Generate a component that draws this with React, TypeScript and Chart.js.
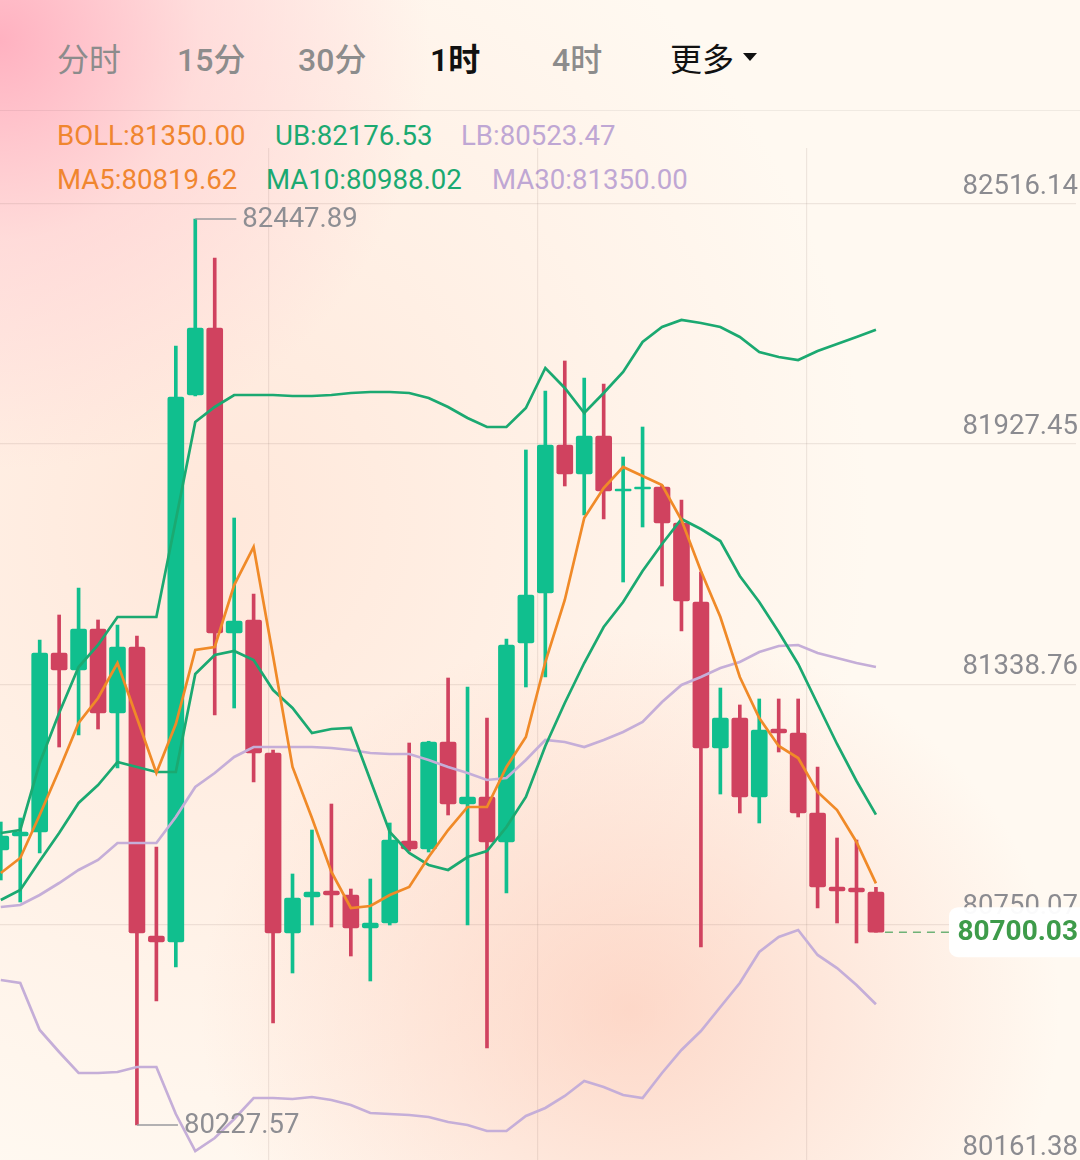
import React, { useEffect, useRef } from "react";
import { Chart, registerables } from "chart.js";

Chart.register(...registerables);

// ---------- data ----------
const TABS = ["分时", "15分", "30分", "1时", "4时", "更多"];
const TAB_LEFT = [57, 177, 298, 430, 552, 670];
const ACTIVE_TAB = "1时";

const LEGEND_ROW1 = [
  { text: "BOLL:81350.00", color: "#F0862F", left: 57 },
  { text: "UB:82176.53", color: "#1BA971", left: 275 },
  { text: "LB:80523.47", color: "#BFA7D4", left: 461 },
];
const LEGEND_ROW2 = [
  { text: "MA5:80819.62", color: "#F0862F", left: 57 },
  { text: "MA10:80988.02", color: "#1BA971", left: 266 },
  { text: "MA30:81350.00", color: "#BFA7D4", left: 492 },
];

const OPEN = [80901.5, 80935.8, 80945.6, 81384.3, 81342.6, 81443.1, 81237.2, 81399.0, 80690.7, 80676.0, 82016.6, 82180.8, 81433.3, 81465.2, 81139.2, 80698.1, 80786.3, 80801.0, 80791.2, 80710.3, 80722.6, 80923.6, 80904.0, 81166.2, 81014.2, 81031.4, 80921.1, 81408.8, 81531.3, 81894.0, 81823.0, 81916.1, 81781.3, 81786.2, 81791.1, 81702.9, 81509.3, 81151.5, 81225.0, 81031.4, 81198.0, 81188.2, 80992.2, 80810.8, 80808.4, 80798.6];
const CLOSE = [80935.8, 80945.6, 81384.3, 81342.6, 81443.1, 81237.2, 81399.0, 80698.1, 80676.0, 82011.7, 82180.8, 81433.3, 81462.7, 81139.2, 80698.1, 80783.9, 80798.6, 80791.2, 80710.3, 80722.6, 80926.0, 80904.0, 81166.2, 81014.2, 81031.4, 80921.1, 81403.9, 81526.4, 81894.0, 81823.0, 81916.1, 81781.3, 81786.2, 81791.1, 81702.9, 81511.7, 81151.5, 81225.0, 81031.4, 81195.6, 81188.2, 80992.2, 80810.8, 80801.0, 80798.6, 80700.03];
const HIGH = [80970.1, 80979.9, 81416.2, 81477.4, 81543.6, 81465.2, 81452.9, 81425.9, 80908.9, 82136.7, 82447.89, 82352.3, 81715.1, 81528.9, 81146.6, 80842.7, 80950.5, 81014.2, 80805.9, 80830.4, 80967.7, 81163.7, 81168.0, 81323.0, 81301.0, 81225.0, 81418.6, 81881.8, 82026.4, 82099.9, 82058.2, 82043.5, 81864.6, 81938.1, 81795.0, 81759.2, 81582.8, 81298.5, 81256.9, 81271.6, 81271.6, 81271.6, 81104.9, 80930.9, 80926.0, 80810.0];
const LOW = [80828.0, 80774.1, 80894.2, 81153.9, 81183.3, 81198.0, 81102.5, 80227.57, 80531.4, 80614.8, 82014.1, 81232.3, 81249.5, 81068.2, 80477.5, 80600.1, 80717.7, 80712.8, 80641.7, 80580.5, 80717.7, 80899.1, 80896.6, 80987.3, 80717.7, 80416.3, 80796.1, 81301.0, 81325.5, 81793.6, 81722.5, 81712.7, 81558.3, 81693.1, 81548.5, 81438.2, 80663.8, 81038.7, 80992.2, 80967.7, 81141.7, 80982.4, 80759.4, 80722.6, 80673.6, 80700.03];

const MA5 = [80845.1, 80881.9, 80987.3, 81097.6, 81212.7, 81274.0, 81359.8, 81225.0, 81090.2, 81210.3, 81391.6, 81399.0, 81550.9, 81644.1, 81376.9, 81104.9, 80979.9, 80847.6, 80759.4, 80764.3, 80791.2, 80810.8, 80884.3, 80950.5, 81006.9, 81006.9, 81104.9, 81178.4, 81362.2, 81514.2, 81715.1, 81788.7, 81840.1, 81818.1, 81796.0, 81710.2, 81585.2, 81472.5, 81325.5, 81225.0, 81156.4, 81127.0, 81043.6, 80999.5, 80921.1, 80819.62];
const MA10 = [80779.0, 80803.5, 80874.5, 80943.2, 81016.7, 81060.8, 81117.2, 81104.9, 81092.7, 81092.7, 81332.8, 81379.4, 81389.2, 81367.1, 81293.6, 81249.5, 81188.2, 81198.0, 81200.5, 81073.1, 80945.6, 80894.2, 80864.7, 80852.5, 80884.3, 80899.1, 80957.9, 81031.4, 81156.4, 81261.8, 81359.8, 81448.0, 81509.3, 81585.2, 81651.4, 81712.7, 81688.2, 81658.8, 81573.0, 81509.3, 81435.8, 81357.3, 81259.3, 81161.3, 81070.6, 80988.02];
const BOLL_MID = [80761.8, 80766.7, 80791.2, 80820.6, 80852.5, 80877.0, 80918.7, 80918.7, 80918.7, 80982.4, 81055.9, 81090.2, 81129.4, 81153.9, 81153.9, 81153.9, 81153.9, 81151.5, 81146.6, 81139.2, 81136.8, 81136.8, 81122.1, 81104.9, 81090.2, 81073.1, 81077.9, 81122.1, 81171.1, 81166.2, 81153.9, 81171.1, 81190.7, 81215.2, 81264.2, 81305.9, 81325.5, 81347.5, 81362.2, 81386.7, 81401.4, 81403.9, 81384.3, 81372.0, 81359.8, 81350.0];
const BOLL_UB = [80943.2, 80950.5, 81114.7, 81237.2, 81350.0, 81403.9, 81472.5, 81472.5, 81472.5, 81710.2, 81950.4, 81987.2, 82016.6, 82016.6, 82016.6, 82014.1, 82014.1, 82016.6, 82021.5, 82023.9, 82023.9, 82021.5, 82009.2, 81987.2, 81960.2, 81938.1, 81938.1, 81984.7, 82082.7, 82033.7, 81972.5, 82021.5, 82072.9, 82146.5, 82183.2, 82200.4, 82193.0, 82183.2, 82158.7, 82122.0, 82109.7, 82102.3, 82124.4, 82141.6, 82158.7, 82176.53];
const BOLL_LB = [80582.9, 80575.6, 80460.4, 80406.5, 80355.0, 80355.0, 80357.4, 80369.7, 80369.7, 80254.5, 80163.8, 80195.7, 80242.3, 80293.7, 80293.7, 80291.3, 80296.2, 80288.8, 80276.6, 80257.0, 80254.5, 80252.1, 80247.2, 80234.9, 80227.6, 80212.9, 80212.9, 80249.6, 80269.2, 80298.6, 80335.4, 80320.7, 80301.1, 80293.7, 80355.0, 80411.4, 80457.9, 80516.7, 80575.6, 80651.5, 80688.3, 80705.4, 80644.2, 80612.3, 80570.7, 80523.47];

const Y_TICK_LABELS = ["82516.14", "81927.45", "81338.76", "80750.07", "80161.38"];
const GRID_SHIFT = 31; // grid lines sit slightly below the printed level

// ---------- style ----------
const UP = "#10BF8E";
const DOWN = "#D0425F";
const LINE_GREEN = "#1BA971";
const LINE_ORANGE = "#F08A28";
const LINE_PURPLE = "#C5AED8";
const GRID = "rgba(120,100,90,0.13)";
const AXIS_TEXT = "#8B8B90";
const PRICE_GREEN = "#3E9B4A";
const FONT = "Roboto, 'Noto Sans CJK SC', sans-serif";

const Y_MIN = 80097.67;
const Y_MAX = 82621.89;
const X_MIN = -0.041;
const X_MAX = 55.287;
const CANVAS_TOP = 148;
const CANVAS_H = 1030;

const overlayPlugin = {
  id: "overlay",
  afterDraw(chart: any) {
    const { ctx, scales } = chart;
    const xs = scales.x;
    const ys = scales.y;
    let hi = 0;
    let lo = 0;
    HIGH.forEach((h, i) => { if (h > HIGH[hi]) hi = i; });
    LOW.forEach((l, i) => { if (l < LOW[lo]) lo = i; });
    ctx.save();
    ctx.strokeStyle = "#9A9A9E";
    ctx.fillStyle = "#8E8E93";
    ctx.lineWidth = 1.5;
    ctx.font = `27.5px ${FONT}`;
    ctx.textAlign = "left";
    ctx.textBaseline = "middle";
    const mark = (i: number, v: number) => {
      const x = xs.getPixelForValue(i);
      const y = ys.getPixelForValue(v);
      ctx.beginPath();
      ctx.moveTo(x, y);
      ctx.lineTo(x + 41, y);
      ctx.stroke();
      ctx.fillText(v.toFixed(2), x + 47, y + 1);
    };
    mark(hi, HIGH[hi]);
    mark(lo, LOW[lo]);

    // current price
    const last = CLOSE.length - 1;
    const lx = xs.getPixelForValue(last) + 9;
    const ly = ys.getPixelForValue(CLOSE[last]);
    const boxL = 949;
    ctx.setLineDash([8, 6]);
    ctx.strokeStyle = "#6FB277";
    ctx.lineWidth = 1.5;
    ctx.beginPath();
    ctx.moveTo(lx, ly);
    ctx.lineTo(boxL, ly);
    ctx.stroke();
    ctx.setLineDash([]);
    ctx.fillStyle = "rgba(255,255,255,0.96)";
    ctx.beginPath();
    (ctx as any).roundRect(boxL, ly - 25, 150, 50, 9);
    ctx.fill();
    ctx.fillStyle = PRICE_GREEN;
    ctx.font = `bold 28px ${FONT}`;
    ctx.textAlign = "right";
    ctx.fillText(CLOSE[last].toFixed(2), 1078, ly + 1);
    ctx.restore();
  },
};

export default function App() {
  const ref = useRef<HTMLCanvasElement>(null);

  useEffect(() => {
    const idx = OPEN.map((_, i) => i);
    const colors = idx.map((i) => (CLOSE[i] >= OPEN[i] ? UP : DOWN));
    const line = (data: number[], color: string, order: number) => ({
      type: "line" as const,
      data: data.map((v, i) => ({ x: i, y: v })),
      borderColor: color,
      borderWidth: 2.7,
      pointRadius: 0,
      tension: 0,
      fill: false,
      order,
    });
    const zeroPad = (s: any) => {
      s.paddingTop = 0;
      s.paddingBottom = 0;
      s.paddingLeft = 0;
      s.paddingRight = 0;
    };
    const chart = new Chart(ref.current as HTMLCanvasElement, {
      type: "bar",
      data: {
        datasets: [
          line(MA5, LINE_ORANGE, 0),
          line(MA10, LINE_GREEN, 1),
          line(BOLL_UB, LINE_GREEN, 1),
          line(BOLL_MID, LINE_PURPLE, 2),
          line(BOLL_LB, LINE_PURPLE, 2),
          {
            type: "bar",
            data: idx.map((i) => ({ x: i, y: [OPEN[i], CLOSE[i]] })),
            backgroundColor: colors,
            barThickness: 16,
            borderRadius: 2,
            borderSkipped: false,
            grouped: false,
            order: 5,
          } as any,
          {
            type: "bar",
            data: idx.map((i) => ({ x: i, y: [LOW[i], HIGH[i]] })),
            backgroundColor: colors,
            barThickness: 3,
            borderSkipped: false,
            grouped: false,
            order: 6,
          } as any,
        ],
      },
      options: {
        responsive: false,
        animation: false,
        events: [],
        layout: { padding: 0, autoPadding: false },
        plugins: { legend: { display: false }, tooltip: { enabled: false } },
        scales: {
          x: {
            type: "linear",
            min: X_MIN,
            max: X_MAX,
            display: false,
            offset: false,
            grid: { offset: false },
            afterFit: zeroPad,
          },
          xg: {
            type: "linear",
            position: "bottom",
            min: 0,
            max: 4,
            offset: false,
            afterBuildTicks: (s: any) => {
              s.ticks = [1, 2, 3].map((v) => ({ value: v }));
            },
            afterFit: zeroPad,
            ticks: { display: false },
            grid: { color: GRID, drawTicks: false, offset: false, lineWidth: 1.2 },
            border: { display: false },
          },
          y: {
            type: "linear",
            position: "right",
            min: Y_MIN,
            max: Y_MAX,
            afterBuildTicks: (s: any) => {
              s.ticks = Y_TICK_LABELS.map((t) => ({ value: parseFloat(t) - GRID_SHIFT }));
            },
            afterFit: zeroPad,
            ticks: {
              mirror: true,
              padding: 2,
              labelOffset: -17,
              color: AXIS_TEXT,
              font: { size: 27.5, family: FONT },
              autoSkip: false,
              callback: (_v: any, i: number) => Y_TICK_LABELS[i],
            },
            grid: { color: GRID, drawTicks: false, lineWidth: 1.2 },
            border: { display: false },
          },
        } as any,
      },
      plugins: [overlayPlugin],
    } as any);
    return () => chart.destroy();
  }, []);

  const bg =
    "radial-gradient(circle at 0px 40px, rgba(255,170,188,0.9) 0px, rgba(255,198,205,0.5) 200px, rgba(255,220,215,0) 430px)," +
    "radial-gradient(ellipse 430px 380px at 630px 1010px, rgba(252,196,176,0.62), rgba(252,210,190,0) 100%)," +
    "radial-gradient(ellipse 650px 700px at 220px 520px, rgba(255,220,203,0.6), rgba(255,230,215,0) 100%)," +
    "#FFF9F1";

  const tabWeight = (t: string) => (t === ACTIVE_TAB ? 600 : /\d/.test(t) ? 500 : 400);

  return (
    <div
      style={{
        position: "fixed",
        left: 0,
        top: 0,
        width: 1080,
        height: 1160,
        overflow: "hidden",
        background: bg,
        fontFamily: FONT,
      }}
    >
      {TABS.map((t, i) => (
        <div
          key={t}
          style={{
            position: "absolute",
            left: TAB_LEFT[i],
            top: 40,
            fontSize: 32,
            lineHeight: "40px",
            fontWeight: tabWeight(t),
            color: t === ACTIVE_TAB || t === "更多" ? "#111111" : "#8C8C8C",
            whiteSpace: "nowrap",
          }}
        >
          {t}
        </div>
      ))}
      <div
        style={{
          position: "absolute",
          left: 743,
          top: 53,
          width: 0,
          height: 0,
          borderLeft: "7px solid transparent",
          borderRight: "7px solid transparent",
          borderTop: "8px solid #111",
        }}
      />
      <div style={{ position: "absolute", left: 0, top: 110, width: 1080, height: 1, background: "rgba(0,0,0,0.06)" }} />
      {LEGEND_ROW1.map((l) => (
        <div key={l.text} style={{ position: "absolute", left: l.left, top: 119, fontSize: 27.6, lineHeight: "34px", color: l.color, whiteSpace: "nowrap" }}>
          {l.text}
        </div>
      ))}
      {LEGEND_ROW2.map((l) => (
        <div key={l.text} style={{ position: "absolute", left: l.left, top: 163, fontSize: 27.6, lineHeight: "34px", color: l.color, whiteSpace: "nowrap" }}>
          {l.text}
        </div>
      ))}
      <canvas
        ref={ref}
        width={1080}
        height={CANVAS_H}
        style={{ position: "absolute", left: 0, top: CANVAS_TOP, width: 1080, height: CANVAS_H }}
      />
    </div>
  );
}
